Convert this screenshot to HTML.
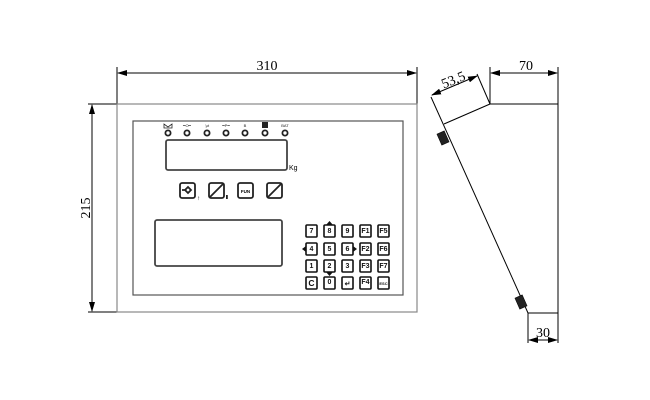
<!DOCTYPE html>
<html><head><meta charset="utf-8"><style>
html,body{margin:0;padding:0;background:#fff;}
svg{display:block;font-family:"Liberation Serif",serif;}
</style></head><body>
<svg width="650" height="400" viewBox="0 0 650 400" xmlns="http://www.w3.org/2000/svg">
<defs>
<marker id="a" markerWidth="10" markerHeight="6" refX="9" refY="3" orient="auto-start-reverse" markerUnits="userSpaceOnUse"><path d="M0,0 L10,3 L0,6 z" fill="#000"/></marker>
</defs>
<g stroke="#000" stroke-width="1" fill="none">
<line x1="117" y1="67" x2="117" y2="104"/>
<line x1="417" y1="67" x2="417" y2="104"/>
<line x1="118" y1="73" x2="416" y2="73" marker-start="url(#a)" marker-end="url(#a)"/>
<line x1="88" y1="104" x2="117" y2="104"/>
<line x1="88" y1="312" x2="117" y2="312"/>
<line x1="92" y1="105" x2="92" y2="311" marker-start="url(#a)" marker-end="url(#a)"/>
</g>
<text x="267" y="70" font-size="14" text-anchor="middle">310</text>
<text x="0" y="0" font-size="14" text-anchor="middle" transform="translate(90,208) rotate(-90)">215</text>
<rect x="117" y="104" width="300" height="208" fill="none" stroke="#888" stroke-width="1.2"/>
<rect x="133" y="121" width="270" height="174" fill="none" stroke="#555" stroke-width="1.2"/>
<g stroke="#222" stroke-width="1.8" fill="#fff">
<circle cx="168" cy="133" r="2.6"/><circle cx="187" cy="133" r="2.6"/><circle cx="207" cy="133" r="2.6"/><circle cx="226" cy="133" r="2.6"/><circle cx="245" cy="133" r="2.6"/><circle cx="265" cy="133" r="2.6"/><circle cx="285" cy="133" r="2.6"/>
</g>
<g font-family="Liberation Sans,sans-serif" font-size="4" text-anchor="middle" fill="#222">
<path d="M164,124 L164,128 L172,128 L172,124 L168,127 Z" fill="none" stroke="#222" stroke-width="0.8"/>
<text x="187" y="127">━O━</text><text x="207" y="127">'μt</text><text x="226" y="127">━P━</text><text x="245" y="127">B</text>
<rect x="262" y="122" width="6" height="6" fill="#222"/>
<text x="285" y="127">BAT</text>
</g>
<rect x="166" y="140" width="121" height="30" rx="2" fill="none" stroke="#444" stroke-width="1.8"/>
<text x="289" y="170" font-family="Liberation Sans,sans-serif" font-size="7">Kg</text>
<g fill="none" stroke="#222" stroke-width="1.8">
<rect x="180" y="183" width="15" height="15" rx="2"/>
<rect x="209" y="183" width="15" height="15" rx="2"/>
<rect x="238" y="183" width="15" height="15" rx="2"/>
<rect x="267" y="183" width="15" height="15" rx="2"/>
<path d="M182,190 L185,190 L188,187 L191,190 L188,193 L185,190"/>
<line x1="210" y1="197" x2="223" y2="184"/>
<line x1="268" y1="197" x2="281" y2="184"/>
</g>
<text x="245.5" y="193" font-family="Liberation Sans,sans-serif" font-size="4.5" text-anchor="middle" font-weight="bold">FUN</text>
<text x="197" y="200" font-size="6" font-weight="bold">↑</text><rect x="226" y="195" width="1.8" height="4" fill="#222"/>
<rect x="155" y="220" width="127" height="46" rx="2" fill="none" stroke="#444" stroke-width="1.8"/>
<g fill="#fff" stroke="#111" stroke-width="1.6">
<rect x="306" y="225" width="11" height="12" rx="1"/><rect x="324" y="225" width="11" height="12" rx="1"/><rect x="342" y="225" width="11" height="12" rx="1"/><rect x="360" y="225" width="11" height="12" rx="1"/><rect x="378" y="225" width="11" height="12" rx="1"/>
<rect x="306" y="243" width="11" height="12" rx="1"/><rect x="324" y="243" width="11" height="12" rx="1"/><rect x="342" y="243" width="11" height="12" rx="1"/><rect x="360" y="243" width="11" height="12" rx="1"/><rect x="378" y="243" width="11" height="12" rx="1"/>
<rect x="306" y="260" width="11" height="12" rx="1"/><rect x="324" y="260" width="11" height="12" rx="1"/><rect x="342" y="260" width="11" height="12" rx="1"/><rect x="360" y="260" width="11" height="12" rx="1"/><rect x="378" y="260" width="11" height="12" rx="1"/>
<rect x="306" y="277" width="11" height="12" rx="1"/><rect x="324" y="277" width="11" height="12" rx="1"/><rect x="342" y="277" width="11" height="12" rx="1"/><rect x="360" y="277" width="11" height="12" rx="1"/><rect x="378" y="277" width="11" height="12" rx="1"/>
</g>
<g fill="#111">
<path d="M326,225 L329.5,221 L333,225 Z"/><path d="M306,246 L302,249 L306,252 Z"/><path d="M353,246 L357,249 L353,252 Z"/><path d="M326,272 L329.5,276 L333,272 Z"/>
</g>
<g font-family="Liberation Sans,sans-serif" font-size="7" font-weight="bold" text-anchor="middle" fill="#111">
<text x="311.5" y="233">7</text><text x="329.5" y="233">8</text><text x="347.5" y="233">9</text><text x="365.5" y="233">F1</text><text x="383.5" y="233">F5</text>
<text x="311.5" y="251">4</text><text x="329.5" y="251">5</text><text x="347.5" y="251">6</text><text x="365.5" y="251">F2</text><text x="383.5" y="251">F6</text>
<text x="311.5" y="268">1</text><text x="329.5" y="268">2</text><text x="347.5" y="268">3</text><text x="365.5" y="268">F3</text><text x="383.5" y="268">F7</text>
<text x="311.5" y="286" font-size="8.5">C</text><text x="329.5" y="284">0</text><text x="347.5" y="286">↵</text><text x="365.5" y="284">F4</text><text x="383.5" y="285" font-size="4">ESC</text>
</g>
<g stroke="#000" stroke-width="1" fill="none">
<line x1="490" y1="104" x2="558" y2="104"/>
<line x1="558" y1="67" x2="558" y2="313"/>
<line x1="490" y1="67" x2="490" y2="104"/>
<line x1="491" y1="73" x2="557" y2="73" marker-start="url(#a)" marker-end="url(#a)"/>
<line x1="490" y1="104" x2="444" y2="124"/>
<line x1="490" y1="104" x2="477" y2="74"/>
<line x1="431" y1="97" x2="528" y2="313"/>
<line x1="432" y1="95" x2="477" y2="76" marker-start="url(#a)" marker-end="url(#a)"/>
<line x1="528" y1="313" x2="558" y2="313"/>
<line x1="528" y1="313" x2="528" y2="343"/>
<line x1="558" y1="313" x2="558" y2="343"/>
<line x1="529" y1="340" x2="557" y2="340" marker-start="url(#a)" marker-end="url(#a)"/>
</g>
<text x="526" y="70" font-size="14" text-anchor="middle">70</text>
<text x="543" y="337" font-size="14" text-anchor="middle">30</text>
<text x="0" y="0" font-size="14" text-anchor="middle" transform="translate(455,84) rotate(-22)">53,5</text>
<g fill="#222" stroke="#000" stroke-width="0.5">
<rect x="-4" y="-6" width="8" height="12" transform="translate(443,138) rotate(-24)"/>
<rect x="-4" y="-6" width="8" height="12" transform="translate(521,302) rotate(-24)"/>
</g>
</svg>
</body></html>
